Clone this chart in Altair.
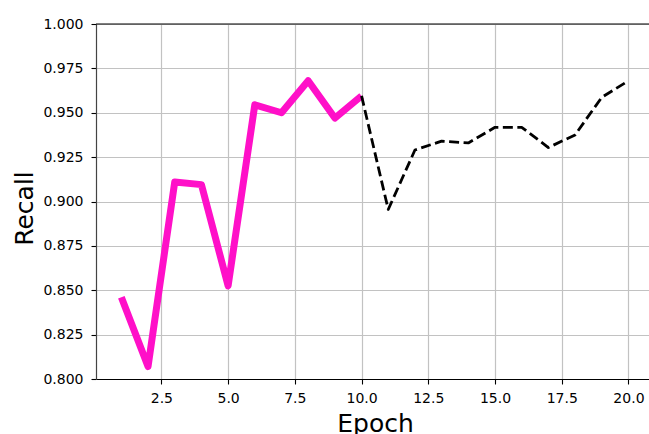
import altair as alt
import pandas as pd

epochs_a = [1, 2, 3, 4, 5, 6, 7, 8, 9, 10]
recall_a = [0.846, 0.807, 0.911, 0.9095, 0.8525, 0.9545, 0.950, 0.968, 0.947, 0.9595]
epochs_b = [10, 11, 12, 13, 14, 15, 16, 17, 18, 19, 20]
recall_b = [0.9595, 0.8955, 0.929, 0.934, 0.933, 0.9418, 0.9418, 0.9304, 0.9375, 0.9587, 0.968]
x_ticks = [2.5, 5.0, 7.5, 10.0, 12.5, 15.0, 17.5, 20.0]
y_ticks = [0.8, 0.825, 0.85, 0.875, 0.9, 0.925, 0.95, 0.975, 1.0]

df_a = pd.DataFrame({"Epoch": epochs_a, "Recall": recall_a})
df_b = pd.DataFrame({"Epoch": epochs_b, "Recall": recall_b})

W, H = 553, 355
FONT = "DejaVu Sans"

xscale = alt.Scale(domain=[0.05, 20.77], nice=False, zero=False)
yscale = alt.Scale(domain=[0.8, 1.0], nice=False, zero=False)

xaxis = alt.Axis(
    values=x_ticks, format=".1f", title="Epoch",
    grid=True, gridColor="#c2c2c2", gridWidth=1.2,
    domainColor="#000000", domainWidth=1.2,
    tickColor="#000000", tickSize=5, tickWidth=1.1,
    labelFont=FONT, labelFontSize=14, labelColor="#000000", labelPadding=7,
    labelFlush=False, labelOverlap=False,
    titleFont=FONT, titleFontSize=25, titleFontWeight="normal", titleColor="#000000",
    titleBaseline="alphabetic", titleY=52, titleX=279,
)
yaxis = alt.Axis(
    values=y_ticks, format=".3f", title="Recall",
    grid=True, gridColor="#c2c2c2", gridWidth=1.2,
    domainColor="#444444", domainWidth=1.2,
    tickColor="#000000", tickSize=5, tickWidth=1.1,
    labelFont=FONT, labelFontSize=14, labelColor="#000000", labelPadding=8,
    labelFlush=False, labelOverlap=False,
    titleFont=FONT, titleFontSize=25, titleFontWeight="normal", titleColor="#000000",
    titleAngle=-90, titleBaseline="alphabetic", titleAlign="center",
    titleX=-64, titleY=184,
)

line_a = alt.Chart(df_a).mark_line(
    color="#ff10c8", strokeWidth=7, strokeJoin="round", strokeCap="butt"
).encode(
    x=alt.X("Epoch:Q", scale=xscale, axis=xaxis),
    y=alt.Y("Recall:Q", scale=yscale, axis=yaxis),
)

line_b = alt.Chart(df_b).mark_line(
    color="#000000", strokeWidth=2.8, strokeDash=[10, 4.5], strokeJoin="round"
).encode(
    x=alt.X("Epoch:Q", scale=xscale),
    y=alt.Y("Recall:Q", scale=yscale),
)

top_spine = alt.Chart(pd.DataFrame({"a": [0]})).mark_rule(
    color="#000000", strokeWidth=1.2
).encode(x=alt.value(0), x2=alt.value(W), y=alt.value(0))

chart = alt.layer(line_a, line_b, top_spine).properties(
    width=W, height=H,
    autosize=alt.AutoSizeParams(type="none"),
    padding={"left": 96, "top": 24, "right": 0, "bottom": 55},
    background="white",
).configure_view(stroke=None)

chart.save("out.html", embed_options={"renderer": "svg", "actions": False})
